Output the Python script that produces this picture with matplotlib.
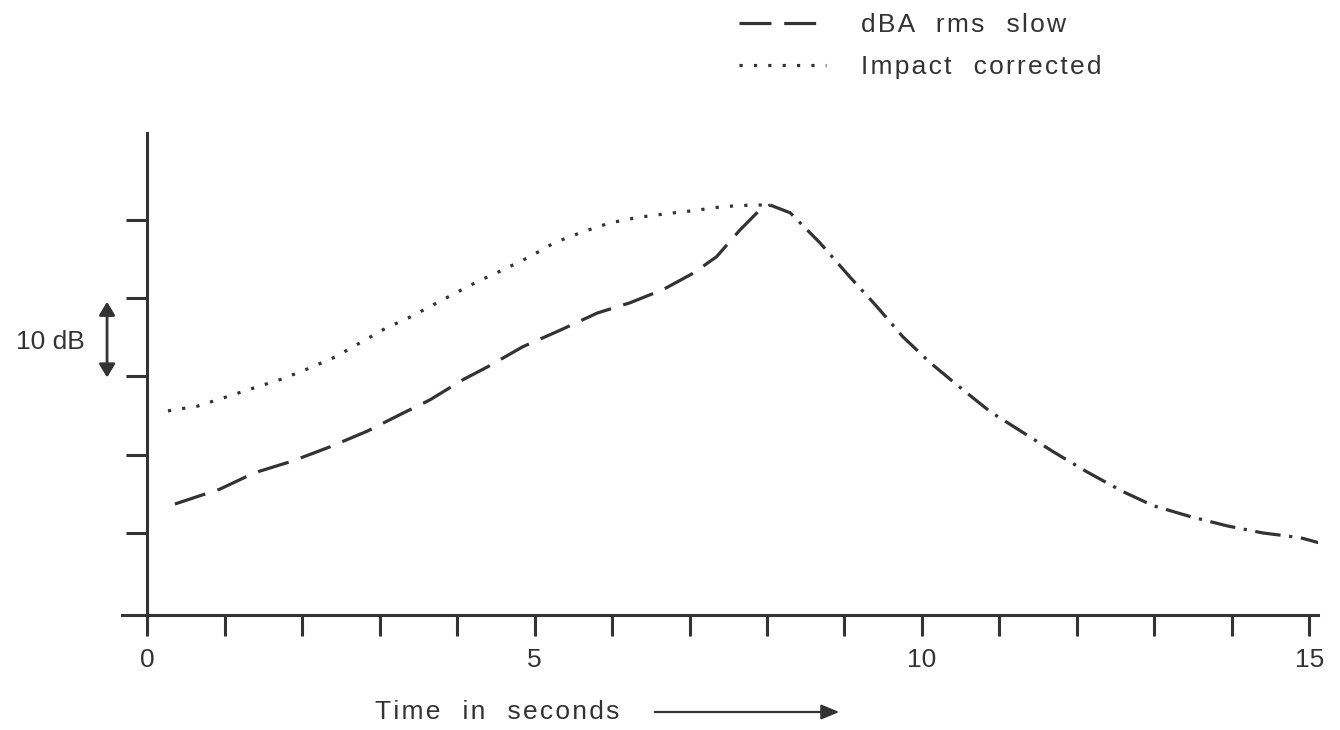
import numpy as np
import matplotlib.pyplot as plt

plt.rcParams['font.family'] = ['Liberation Sans', 'DejaVu Sans']

# rise, dBA rms slow (seconds, dB)
t_slow = [0.36, 0.94, 1.39, 1.88, 2.36, 2.84, 3.26, 3.65, 4.08, 4.39, 4.85, 5.33,
          5.81, 6.23, 6.66, 7.05, 7.35, 7.65, 7.91, 8.04]
db_slow = [13.7, 15.6, 17.7, 19.2, 21.0, 23.0, 25.1, 27.0, 29.6, 31.2, 33.8, 35.9,
           38.1, 39.4, 41.1, 43.2, 45.3, 48.7, 51.3, 51.9]

# rise, impact corrected
t_imp = [0.27, 0.65, 1.03, 1.37, 1.75, 2.08, 2.43, 2.75, 3.07, 3.42, 3.74, 4.26,
         4.59, 4.94, 5.26, 5.63, 5.97, 6.32, 6.71, 7.07, 7.43, 7.81, 7.97]
db_imp = [25.6, 26.2, 27.4, 28.5, 29.7, 31.0, 32.5, 34.3, 36.1, 37.7, 39.4, 42.1,
          43.6, 45.3, 47.1, 48.5, 49.6, 50.3, 50.8, 51.2, 51.7, 51.9, 51.9]

# common decay after the peak
t_decay = [8.04, 8.30, 8.68, 9.07, 9.42, 9.75, 10.10, 10.49, 10.88, 11.69, 12.13,
           12.59, 12.98, 13.46, 13.94, 14.40, 14.88, 15.14]
db_decay = [51.9, 50.9, 47.1, 42.7, 38.9, 35.1, 31.8, 28.6, 25.5, 20.4, 17.8,
            15.3, 13.5, 12.1, 10.9, 10.0, 9.4, 8.7]

xticks = np.arange(0, 16)
xlabels = ['0', '', '', '', '', '5', '', '', '', '', '10', '', '', '', '', '15']
yticks = [10, 20, 30, 40, 50]


def spaced(s):
    # loose letter and word spacing of the original print
    words = s.split(' ')
    return '   '.join('\u200a'.join(w) for w in words)


ink = '#333333'
fs = 19
fig = plt.figure(figsize=(13.4, 7.3), dpi=100)
ax = fig.add_axes([122/1340, 115/730, 1196/1340, 482/730])

ax.plot(t_slow, db_slow, color=ink, lw=2.3, dashes=(10, 4), label=spaced('dBA rms slow'))
ax.plot(t_imp, db_imp, color=ink, lw=2.3, dashes=(1, 3.5), label=spaced('Impact corrected'))
ax.plot(t_decay, db_decay, color=ink, lw=2.3, dashes=(8, 2.7, 1, 2.7))

ax.set_xlim(-0.323, 15.11)
ax.set_ylim(-0.48, 61.1)
ax.spines['left'].set_position(('data', 0))
ax.spines['top'].set_visible(False)
ax.spines['right'].set_visible(False)
for s in ('left', 'bottom'):
    ax.spines[s].set_linewidth(2.2)
    ax.spines[s].set_color(ink)

ax.set_xticks(xticks)
ax.set_xticklabels(xlabels)
ax.set_yticks(yticks)
ax.set_yticklabels([])
ax.tick_params(axis='both', direction='out', length=15, width=2.2, color=ink,
               labelsize=fs, labelcolor=ink, pad=9)

# 10 dB scale marker
ax.annotate('', xy=(-0.516, 29.5), xytext=(-0.516, 39.9),
            arrowprops=dict(arrowstyle='<|-|>,head_length=0.5,head_width=0.3',
                            color=ink, lw=2, mutation_scale=16),
            annotation_clip=False)
ax.text(-0.80, 34.4, '10 dB', ha='right', va='center', fontsize=fs, color=ink)

# x axis label with arrow
ylab = 1 - 712/730
fig.text(375/1340, ylab, spaced('Time in seconds'), ha='left', va='center',
         fontsize=fs, color=ink)
ax.annotate('', xy=(842/1340, ylab), xytext=(652/1340, ylab),
            xycoords='figure fraction', textcoords='figure fraction',
            arrowprops=dict(arrowstyle='-|>,head_length=0.6,head_width=0.25',
                            color=ink, lw=1.6, mutation_scale=18))

leg = fig.legend(loc='upper left', bbox_to_anchor=(715/1340, 1.015), frameon=False,
                 fontsize=fs, handlelength=3.3, labelspacing=0.68, handletextpad=1.35)
for txt in leg.get_texts():
    txt.set_color(ink)

fig.savefig('out.png', dpi=100)
